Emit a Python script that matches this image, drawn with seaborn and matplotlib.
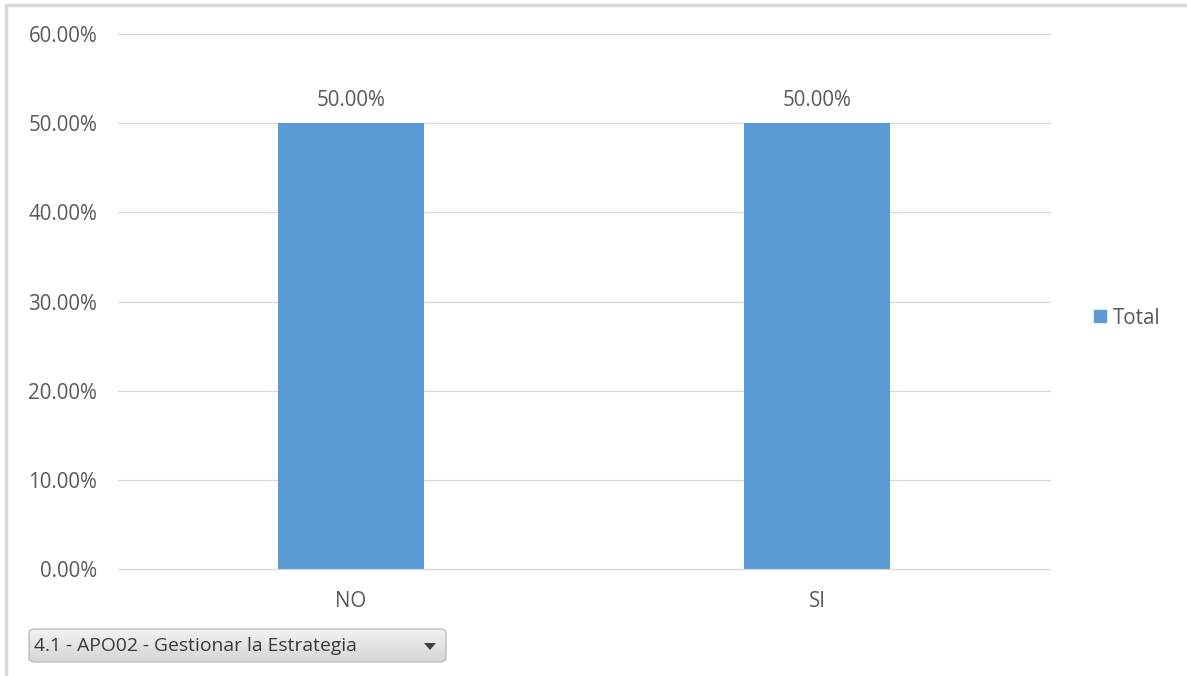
import matplotlib
matplotlib.use("Agg")
import matplotlib.pyplot as plt
import seaborn as sns
import pandas as pd
import numpy as np
from matplotlib.patches import FancyBboxPatch, Polygon
from matplotlib.lines import Line2D
from matplotlib.ticker import FuncFormatter

# Data
categories = ["NO", "SI"]
values = [50.0, 50.0]
series_name = "Total"
filter_label = "4.1 - APO02 - Gestionar la Estrategia"
y_ticks = [0, 10, 20, 30, 40, 50, 60]

sns.set_theme(style="white")
plt.rcParams["font.family"] = ["Open Sans", "DejaVu Sans"]

text_color = "#595959"
bar_color = "#5B9BD5"
grid_color = "#D9D9D9"
fs = 14.8

df = pd.DataFrame({"cat": categories, "val": values, "serie": series_name})

W, H = 1187, 676
fig = plt.figure(figsize=(W / 100, H / 100), dpi=100)
ax = fig.add_axes([118 / W, 1 - 569 / H, (1050 - 118) / W, (569 - 34) / H])

sns.barplot(data=df, x="cat", y="val", color=bar_color, width=0.313,
            saturation=1, linewidth=0, ax=ax, zorder=3)

ax.set_ylim(0, 60)
ax.set_yticks(y_ticks)
ax.yaxis.set_major_formatter(FuncFormatter(lambda v, _: f"{v:.2f}%"))
ax.set_xlim(-0.5, len(categories) - 0.5)
ax.set_xlabel("")
ax.set_ylabel("")
ax.grid(False)
for t in y_ticks:
    ax.axhline(t, color=grid_color, linewidth=1, zorder=0, clip_on=False)
for s in ax.spines.values():
    s.set_visible(False)
ax.tick_params(axis="both", length=0, colors=text_color, labelsize=fs)
ax.tick_params(axis="y", pad=15)
ax.tick_params(axis="x", pad=16)

# Value labels above bars
for i, v in enumerate(values):
    ax.annotate(f"{v:.2f}%", (i, v), xytext=(0, 9), textcoords="offset points",
                ha="center", va="bottom", color=text_color, fontsize=fs)

# Legend
handle = Line2D([], [], marker="s", linestyle="", markersize=9,
                markerfacecolor=bar_color, markeredgecolor=bar_color)
fig.legend([handle], [series_name], loc="center left",
           bbox_to_anchor=(1071 / W, 1 - 318 / H), frameon=False,
           handletextpad=0.15, prop={"size": fs},
           labelcolor=text_color, handlelength=1.0)

# Chart area border (top and left edges)
fig.add_artist(Line2D([6 / W, 1], [1 - 5 / H, 1 - 5 / H],
                      transform=fig.transFigure, color="#D9D9D9", linewidth=2.5))
fig.add_artist(Line2D([6 / W, 6 / W], [0, 1 - 5 / H],
                      transform=fig.transFigure, color="#D9D9D9", linewidth=2.5))

# Field filter button with a soft vertical gradient
bx0, bx1, by0, by1 = 29 / W, 446 / W, 1 - 662 / H, 1 - 629 / H
box = FancyBboxPatch((bx0, by0), bx1 - bx0, by1 - by0,
                     boxstyle="round,pad=0,rounding_size=0.006",
                     transform=fig.transFigure, facecolor="none",
                     edgecolor="#BDBDBD", linewidth=1, zorder=3)
fig.add_artist(box)
grad_ax = fig.add_axes([bx0, by0, bx1 - bx0, by1 - by0], zorder=-1)
grad = np.linspace(0, 1, 64).reshape(-1, 1)
grad_ax.imshow(grad, aspect="auto", cmap=matplotlib.colors.LinearSegmentedColormap.from_list(
    "btn", ["#F2F2F2", "#D6D6D6"]), extent=[0, 1, 0, 1], origin="upper")
for im in grad_ax.images:
    im.set_clip_path(box)
grad_ax.axis("off")
fig.text(34 / W, 1 - 646 / H, filter_label, ha="left", va="center",
         color="#3A3A3A", fontsize=13.9, zorder=4)
tri = Polygon([[424 / W, 1 - 643 / H], [436 / W, 1 - 643 / H], [430 / W, 1 - 650 / H]],
              closed=True, transform=fig.transFigure, facecolor="#404040",
              edgecolor="none", zorder=4)
fig.add_artist(tri)

fig.savefig("out.png", dpi=100, facecolor="white")
